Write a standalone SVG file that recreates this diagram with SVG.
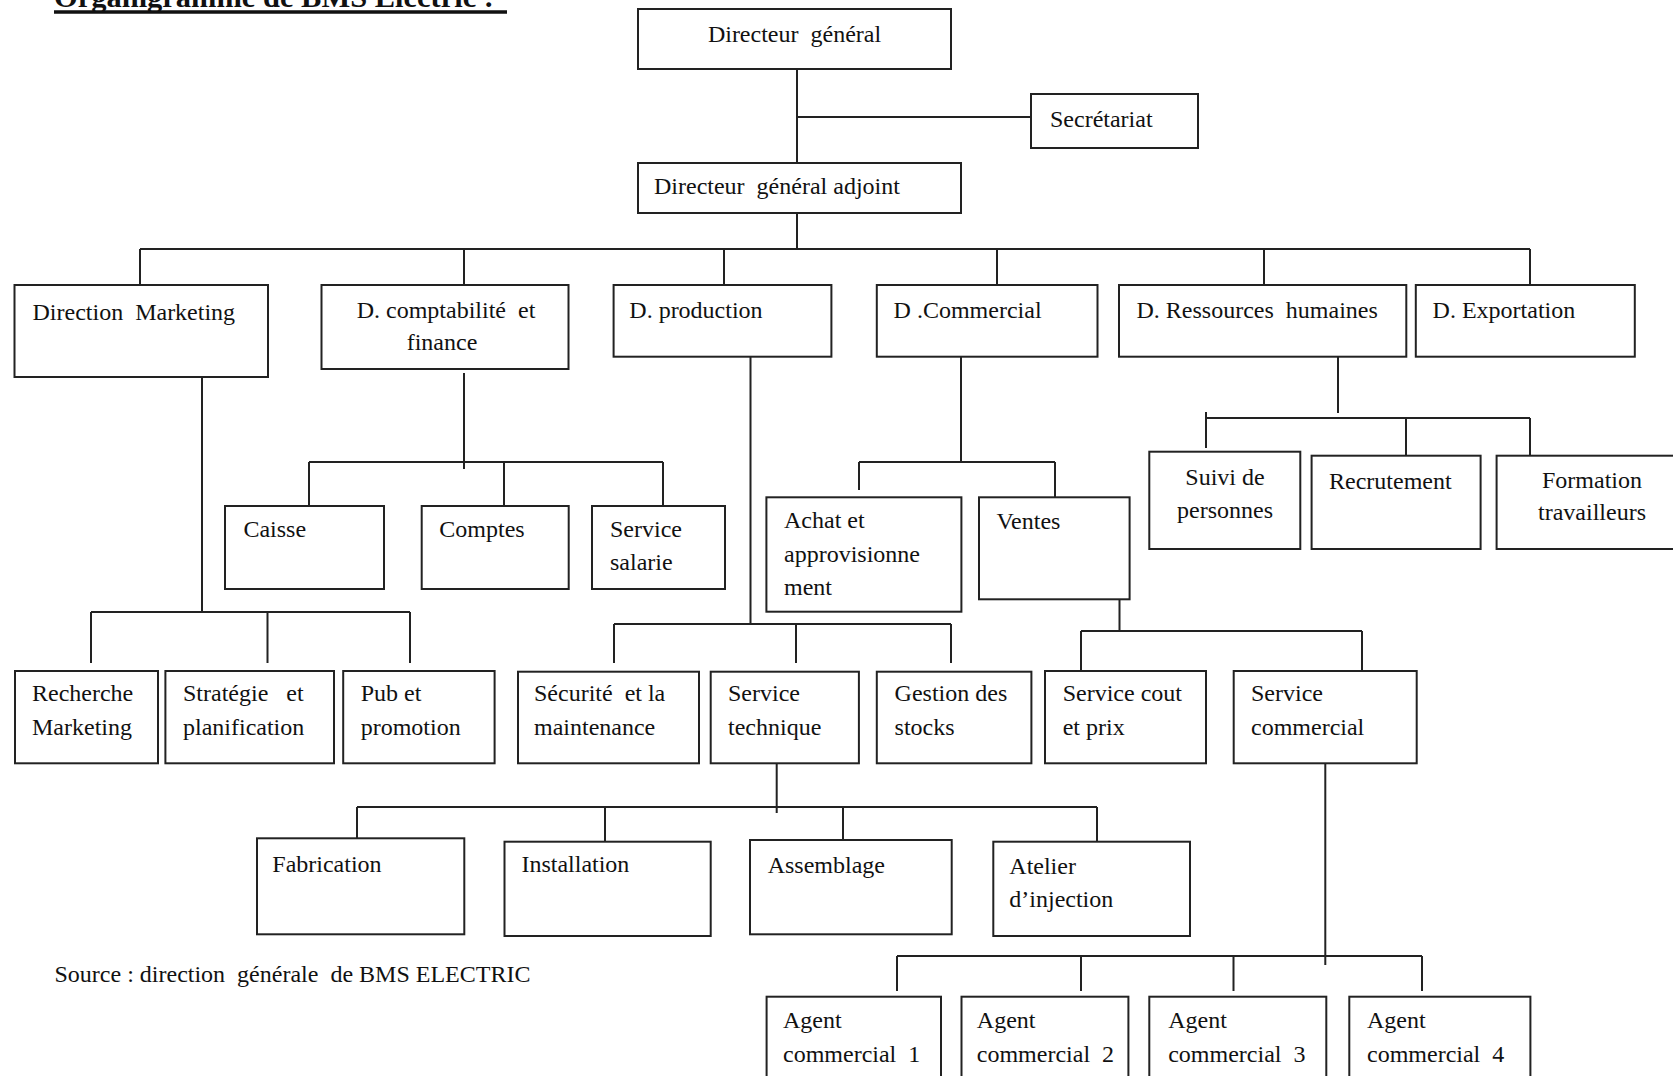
<svg xmlns="http://www.w3.org/2000/svg" width="1673" height="1076" viewBox="0 0 1673 1076">
<style>
.box{fill:#fff;stroke:#222;stroke-width:2}
.ln{fill:none;stroke:#222;stroke-width:2}
text{font-family:"Liberation Serif","Times New Roman",serif;font-size:24px;fill:#111;white-space:pre}
.c{text-anchor:middle}
.title{font-weight:bold;font-size:29px}
</style>
<rect width="1673" height="1076" fill="#fff"/>
<g id="title">
<text class="title" x="54" y="6.5" textLength="440" lengthAdjust="spacingAndGlyphs">Organigramme de BMS Electric :</text>
<line x1="54" y1="12" x2="507" y2="12" stroke="#111" stroke-width="3.5"/>
</g>
<g id="connectors">
<path class="ln" d="M797 69V163M797 117H1031M797 213V249M140 249H1530M140 249V285M464 249V285M724 249V285M997 249V285M1264 249V285M1530 249V285"/>
<path class="ln" d="M202 377V612M91 612H410M91 612V663M267.5 612V663M410 612V663"/>
<path class="ln" d="M464 373V469M309 462H663M309 462V506M504 462V506M663 462V506"/>
<path class="ln" d="M750.5 357V624M614 624H951M614 624V663M796 624V663M951 624V663"/>
<path class="ln" d="M961 357V462M859 462H1055M859 462V490M1055 462V497"/>
<path class="ln" d="M1119.5 592V631M1081 631H1362M1081 631V671M1362 631V671"/>
<path class="ln" d="M1338 357V413M1206 418H1530M1206 412V448M1406 418V455M1530 418V455"/>
<path class="ln" d="M776.7 763V813M357 807H1097M357 807V840M605 807V842M843 807V840M1097 807V842"/>
<path class="ln" d="M1325.3 763V965M897 956H1422M897 956V991M1081 956V991M1233.5 956V991M1422 956V991"/>
</g>
<g id="n-dg"><rect class="box" x="638" y="9" width="313" height="60"/><text class="c" x="794.5" y="42">Directeur  général</text></g>
<g id="n-sec"><rect class="box" x="1031" y="94" width="167" height="54"/><text x="1050" y="127">Secrétariat</text></g>
<g id="n-dga"><rect class="box" x="638" y="163" width="323" height="50"/><text x="654" y="194">Directeur  général adjoint</text></g>
<g id="n-dm"><rect class="box" x="14.5" y="285" width="253.5" height="92"/><text x="32.5" y="320">Direction  Marketing</text></g>
<g id="n-dcf"><rect class="box" x="321.5" y="285" width="247" height="84"/><text class="c" x="446" y="318">D. comptabilité  et</text><text class="c" x="442" y="350">finance</text></g>
<g id="n-dprod"><rect class="box" x="613.6" y="285" width="217.8" height="71.7"/><text x="629.3" y="318">D. production</text></g>
<g id="n-dcom"><rect class="box" x="876.8" y="285" width="220.7" height="71.7"/><text x="893.6" y="318">D .Commercial</text></g>
<g id="n-drh"><rect class="box" x="1119" y="285" width="287.3" height="71.7"/><text x="1136.5" y="318">D. Ressources  humaines</text></g>
<g id="n-dexp"><rect class="box" x="1415.8" y="285" width="219" height="71.7"/><text x="1432.6" y="318">D. Exportation</text></g>
<g id="n-caisse"><rect class="box" x="225" y="506" width="159" height="83"/><text x="243.4" y="537">Caisse</text></g>
<g id="n-comptes"><rect class="box" x="421.7" y="506" width="147" height="83"/><text x="439.3" y="537">Comptes</text></g>
<g id="n-salarie"><rect class="box" x="592" y="506" width="133" height="83"/><text x="610" y="537">Service</text><text x="610" y="570">salarie</text></g>
<g id="n-achat"><rect class="box" x="766.4" y="497.3" width="195" height="114.4"/><text x="784" y="528.3">Achat et</text><text x="784" y="562">approvisionne</text><text x="784" y="595">ment</text></g>
<g id="n-ventes"><rect class="box" x="979" y="497.3" width="150.6" height="102"/><text x="996.4" y="529.3">Ventes</text></g>
<g id="n-suivi"><rect class="box" x="1149.3" y="451.7" width="151" height="97.3"/><text class="c" x="1225" y="485">Suivi de</text><text class="c" x="1225" y="518">personnes</text></g>
<g id="n-recrut"><rect class="box" x="1311.6" y="455.7" width="169" height="93.3"/><text x="1329" y="489.3">Recrutement</text></g>
<g id="n-formation"><rect class="box" x="1496.6" y="455.7" width="200" height="93.3"/><text class="c" x="1592" y="488.3">Formation</text><text class="c" x="1592" y="520">travailleurs</text></g>
<g id="n-recherche"><rect class="box" x="15" y="671" width="143" height="92.3"/><text x="32" y="701">Recherche</text><text x="32" y="735">Marketing</text></g>
<g id="n-strategie"><rect class="box" x="165.4" y="671" width="168.6" height="92.3"/><text x="183" y="701">Stratégie   et</text><text x="183" y="735">planification</text></g>
<g id="n-pub"><rect class="box" x="343.2" y="671" width="151.4" height="92.3"/><text x="360.7" y="701">Pub et</text><text x="360.7" y="735">promotion</text></g>
<g id="n-securite"><rect class="box" x="518" y="671.7" width="181" height="91.6"/><text x="534" y="701">Sécurité  et la</text><text x="534" y="735">maintenance</text></g>
<g id="n-servtech"><rect class="box" x="710.7" y="671.7" width="148.2" height="91.6"/><text x="728" y="701">Service</text><text x="728" y="735">technique</text></g>
<g id="n-gestion"><rect class="box" x="876.8" y="671.7" width="154.6" height="91.6"/><text x="894.6" y="701">Gestion des</text><text x="894.6" y="735">stocks</text></g>
<g id="n-cout"><rect class="box" x="1045" y="671" width="161" height="92.3"/><text x="1062.7" y="701">Service cout</text><text x="1062.7" y="735">et prix</text></g>
<g id="n-servcom"><rect class="box" x="1233.7" y="671" width="183" height="92.3"/><text x="1251" y="701">Service</text><text x="1251" y="735">commercial</text></g>
<g id="n-fabrication"><rect class="box" x="257" y="838.3" width="207.3" height="96"/><text x="272.3" y="871.7">Fabrication</text></g>
<g id="n-installation"><rect class="box" x="504.5" y="841.7" width="206.2" height="94.3"/><text x="521.4" y="871.7">Installation</text></g>
<g id="n-assemblage"><rect class="box" x="750" y="840" width="201.7" height="94.3"/><text x="767.7" y="873.3">Assemblage</text></g>
<g id="n-atelier"><rect class="box" x="993.3" y="841.7" width="196.7" height="94.3"/><text x="1009.3" y="874">Atelier</text><text x="1009.3" y="907.3">d’injection</text></g>
<g id="n-agent1"><rect class="box" x="766.6" y="996.7" width="174.4" height="100"/><text x="783" y="1028.3">Agent</text><text x="783" y="1061.7">commercial  1</text></g>
<g id="n-agent2"><rect class="box" x="961.5" y="996.7" width="166.9" height="100"/><text x="976.8" y="1028.3">Agent</text><text x="976.8" y="1061.7">commercial  2</text></g>
<g id="n-agent3"><rect class="box" x="1149.3" y="996.7" width="177" height="100"/><text x="1168.2" y="1028.3">Agent</text><text x="1168.2" y="1061.7">commercial  3</text></g>
<g id="n-agent4"><rect class="box" x="1349.3" y="996.7" width="181.1" height="100"/><text x="1367" y="1028.3">Agent</text><text x="1367" y="1061.7">commercial  4</text></g>
<g id="source"><text x="54.5" y="981.7">Source : direction  générale  de BMS ELECTRIC</text></g>
</svg>
